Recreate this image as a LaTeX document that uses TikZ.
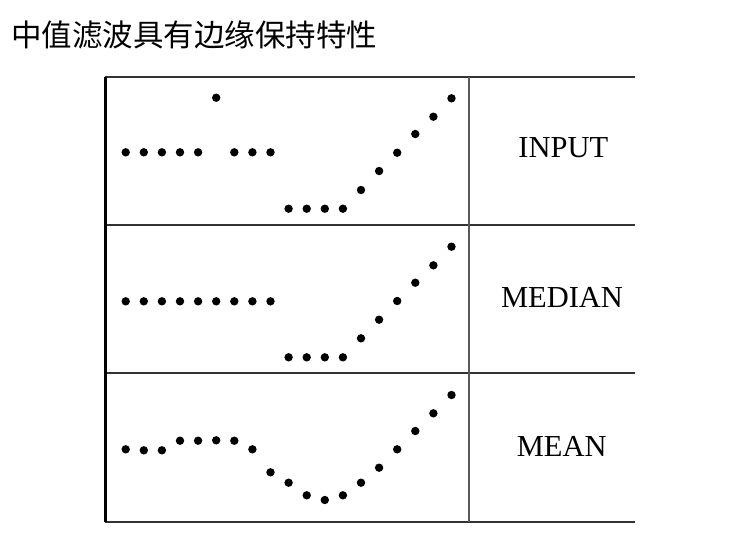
\documentclass[tikz,border=0pt]{standalone}
\usepackage{fontspec}
\setmainfont{Liberation Serif}
\newfontfamily\cjk{Noto Sans CJK SC}
\begin{document}
\begin{tikzpicture}[x=1pt,y=-1pt,
  dot/.style={circle,fill=black,inner sep=0pt,minimum size=8.4pt},
  rowlabel/.style={anchor=base,inner sep=0pt,font=\fontsize{30.5}{34}\selectfont},
  gridline/.style={line width=2pt,draw=black!80},
  divline/.style={line width=2pt,draw=black!65},
  edgeline/.style={line width=2.2pt,draw=black}]
\useasboundingbox (0,0) rectangle (743,547);
\node[anchor=base west,inner sep=0pt,font=\cjk\fontsize{30.5}{36}\selectfont] (title) at (11,46) {中值滤波具有边缘保持特性};
% table grid
\foreach \yy in {77.3,225,373,521.5} \draw[gridline] (105,\yy) -- (635,\yy);
\draw[divline] (469,77.3) -- (469,521.5);
\draw[edgeline] (105.5,76.5) -- (105.5,522.3);
% labels
\node[rowlabel] (input) at (563.3,157.7) {INPUT};
\node[rowlabel] (median) at (562,307.7) {MEDIAN};
\node[rowlabel] (mean) at (561.7,456.7) {MEAN};
% dots
\foreach \yy [count=\i from 0] in {152.3,152.3,152.3,152.3,152.3,97.7,152.3,152.3,152.3,208.7,208.7,208.7,208.7,190,171,152.7,134,116.7,98.3}
  \node[dot] (in-\i) at ({125.7+18.1*\i},\yy) {};
\foreach \yy [count=\i from 0] in {301.3,301.3,301.3,301.3,301.3,301.3,301.3,301.3,301.3,357.3,357.3,357.3,357.3,338.3,319.7,301,282.7,265.3,246.7}
  \node[dot] (med-\i) at ({125.7+18.1*\i},\yy) {};
\foreach \yy [count=\i from 0] in {449.3,450.3,450.3,440.7,440.7,440.3,440.7,449.3,472.3,482.7,495.3,500,495.3,482.7,467.7,449.3,431,413.3,395}
  \node[dot] (avg-\i) at ({125.7+18.1*\i},\yy) {};
\end{tikzpicture}
\end{document}
